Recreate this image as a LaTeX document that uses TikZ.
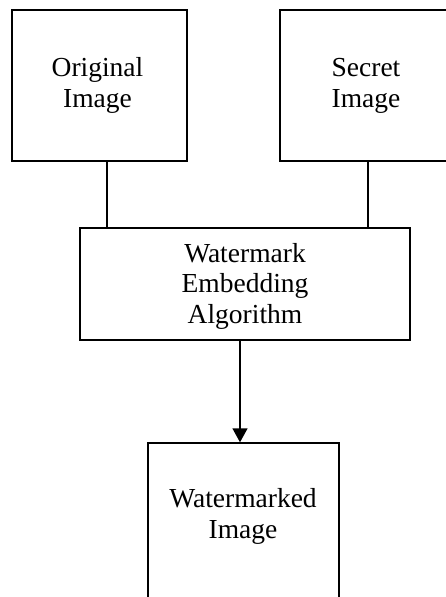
\documentclass[tikz,border=0pt]{standalone}
\usepackage{fontspec}
\setmainfont{Liberation Serif}
\usetikzlibrary{arrows.meta}
\begin{document}
\begin{tikzpicture}[x=1pt,y=-1pt,
  box/.style={draw=black,line width=1.4pt,rectangle,inner sep=0pt,fill=white},
  lbl/.style={align=center,inner sep=0pt,anchor=base,font=\fontsize{27.5}{30.5}\selectfont},
  conn/.style={draw=black,line width=1.4pt}]
\useasboundingbox[fill=white] (0,0) rectangle (446,597);
% boxes
\node[box,minimum width=175pt,minimum height=151pt] (orig) at (99.5,85.5) {};
\node[box,minimum width=172pt,minimum height=151pt] (secret) at (366,85.5) {};
\node[box,minimum width=330pt,minimum height=112pt] (emb) at (245,284) {};
\node[box,minimum width=191pt,minimum height=200pt] (wm) at (243.5,543) {};
% texts (anchor base = baseline of last line)
\node[lbl] (torig) at (97.5,107) {Original\\Image};
\node[lbl] (tsecret) at (366,107) {Secret\\Image};
\node[lbl] (temb) at (245,323) {Watermark\\Embedding\\Algorithm};
\node[lbl] (twm) at (243,538) {Watermarked\\Image};
% connectors
\coordinate (c1) at (107,0);
\coordinate (c2) at (368,0);
\coordinate (c3) at (240,0);
\draw[conn] (c1 |- orig.south) -- (c1 |- emb.north);
\draw[conn] (c2 |- secret.south) -- (c2 |- emb.north);
\draw[conn,-{Triangle[width=15pt,length=14pt]}] (c3 |- emb.south) -- (c3 |- wm.north);
\end{tikzpicture}
\end{document}
